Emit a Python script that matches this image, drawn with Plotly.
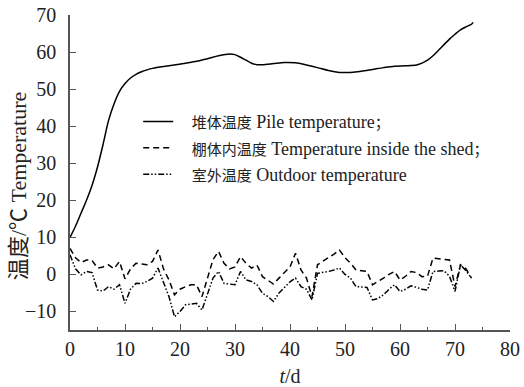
import plotly.graph_objects as go

# Pile temperature (smooth curve)
pile_days = [0, 1, 2, 3, 4, 5, 6, 7, 8, 9, 10, 11, 12, 13, 14, 15, 17, 19, 21, 23, 25, 27, 29, 30,
             31, 32, 33, 34, 35, 37, 39, 41, 43, 45, 47, 49, 51, 53, 55, 57, 59, 61, 63, 64,
             65, 66, 67, 68, 69, 70, 71, 72, 73, 73.3]
pile_temp = [10, 13, 16.5, 20, 24, 29, 35, 41.5, 46, 49.4, 51.5, 53, 54, 54.7, 55.2, 55.6, 56.1, 56.5,
             57, 57.5, 58.2, 59, 59.5, 59.3, 58.6, 57.8, 57, 56.6, 56.6, 56.9, 57.2, 57.1, 56.5,
             55.8, 55, 54.5, 54.5, 54.8, 55.3, 55.8, 56.2, 56.3, 56.5, 57, 57.8, 59, 60.5, 62,
             63.5, 64.8, 66, 66.8, 67.5, 68]

# Daily temperatures inside the shed and outdoors
days = list(range(0, 74))
shed_temp = [7, 4.5, 3.2, 3.9, 3.8, 1.7, 2.0, 2.6, 1.5, 3.5, -1.2, 1.5, 3.0, 2.8, 2.6, 3.5, 6.6, 1.5,
             -1.5, -5.5, -4, -3.3, -2.8, -2.8, -6, -1, 4, 6.2, 3, 1.5, 2.0, 4.8, 3, 1.7, 2.5, -0.6,
             -1.5, -2.6, -1, 0.5, 2, 5.7, 1.2, -1, -6, 2.6, 3.5, 4.4, 5.5, 6.6, 4.5, 3.0, 1.2, 1.0,
             0.8, -2.8, -2, -1, 0, 0.8, -1.5, -0.5, 0.8, 0.5, -0.6, -0.5, 4.4, 4.2, 4.0, 3.9, -3.3,
             2.6, 1.5, -1]
outdoor_temp = [5.3, 1.5, -0.1, 0.8, 0.5, -4.2, -4.5, -3.3, -4, -2.8, -7.8, -4, -2.4, -2.5, -1.9, -1,
                1.7, -2, -6, -11.4, -10, -8.2, -8, -7.8, -9.6, -5, -1, 0.8, -2.4, -2.6, -2.8, 0.8,
                -1.5, -1.9, -2.8, -5.1, -6, -7.3, -5, -3.5, -2, -1, -3.3, -4, -6.9, 0.3, 0.5, 0.8,
                1.2, 1.7, 0, -1, -3.3, -3.4, -3.5, -6.9, -6.5, -5.5, -4, -2.8, -4.6, -4, -3.1, -3.5,
                -4, -4.2, 0.8, 0.9, 1, -0.5, -4.6, 2.6, 1, -1]

x_ticks = [0, 10, 20, 30, 40, 50, 60, 70, 80]
y_ticks = [-10, 0, 10, 20, 30, 40, 50, 60, 70]

SERIF = "Liberation Serif, Noto Sans CJK SC, serif"
CJK = "<span style='font-family:Noto Sans CJK SC;font-size:15px'>{}</span>"
PAD = "\u00a0\u00a0\u00a0"

fig = go.Figure()
fig.add_trace(go.Scatter(
    x=pile_days, y=pile_temp, mode="lines",
    line=dict(color="black", width=1.5, shape="spline", smoothing=0.8),
    name=PAD + CJK.format("堆体温度") + " Pile temperature" + CJK.format("；")))
fig.add_trace(go.Scatter(
    x=days, y=shed_temp, mode="lines",
    line=dict(color="black", width=1.5, dash="6px,4px"),
    name=PAD + CJK.format("棚体内温度") + " Temperature inside the shed" + CJK.format("；")))
fig.add_trace(go.Scatter(
    x=days, y=outdoor_temp, mode="lines",
    line=dict(color="black", width=1.5, dash="6px,2px,1.5px,2px,1.5px,2px"),
    name=PAD + CJK.format("室外温度") + " Outdoor temperature"))

fig.update_layout(
    width=524, height=387,
    margin=dict(l=70, r=14, t=15, b=57, autoexpand=False),
    paper_bgcolor="white", plot_bgcolor="white",
    font=dict(family=SERIF, size=20, color="#222"),
    showlegend=True,
    legend=dict(x=0.155, y=0.72, xanchor="left", yanchor="top",
                bgcolor="rgba(0,0,0,0)", font=dict(size=18, family=SERIF, color="#222"),
                tracegroupgap=0),
    xaxis=dict(range=[0, 80], tickvals=x_ticks, ticks="inside", ticklen=6, tickwidth=1.2,
               tickcolor="#555", showline=True, linecolor="#555", linewidth=1.5,
               showgrid=False, zeroline=False, automargin=False, ticklabeloverflow="allow",
               minor=dict(dtick=5, ticks="inside", ticklen=3, tickcolor="#555", tickwidth=1.2),
               title=dict(text="<i>t</i>/d", font=dict(size=20), standoff=10)),
    yaxis=dict(range=[-15, 70], tickvals=y_ticks, ticks="inside", ticklen=6, tickwidth=1.2,
               tickcolor="#555", showline=True, linecolor="#555", linewidth=1.5,
               showgrid=False, zeroline=False, automargin=False, ticklabelstandoff=8,
               ticklabeloverflow="allow"),
    annotations=[dict(
        text="温度/℃ Temperature",
        xref="paper", yref="paper", x=-0.118, y=0.457, textangle=-90,
        showarrow=False, font=dict(size=22, family=SERIF, color="#222"),
        xanchor="center", yanchor="middle")],
)

# Remove the default 8px page margin so the figure sits at the window's corner.
fig.write_html("out.html", config={"displayModeBar": False},
               post_script="document.body.style.margin='0';")
